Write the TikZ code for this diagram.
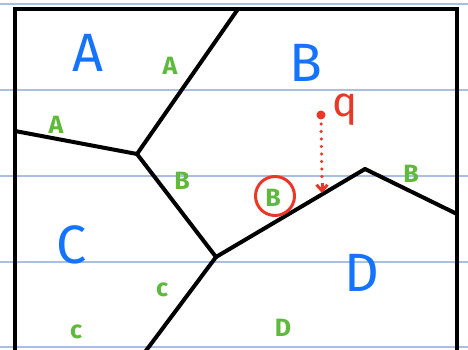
\documentclass[tikz,border=0pt]{standalone}
\usepackage{fontspec}
\setmainfont{Fira Sans}
\usetikzlibrary{arrows.meta}
\definecolor{penblue}{RGB}{20,115,255}
\definecolor{pengreen}{RGB}{95,185,60}
\definecolor{penred}{RGB}{235,55,40}
\definecolor{ruled}{RGB}{170,190,225}
\tikzset{
  big/.style={text=penblue, inner sep=0pt, font=\fontsize{54}{54}\selectfont},
  small/.style={text=pengreen, inner sep=0pt, font=\bfseries\fontsize{25}{25}\selectfont},
  edge/.style={line width=4pt, line cap=round, line join=round},
  ruleline/.style={draw=ruled, line width=1.2pt},
}
\begin{document}
\begin{tikzpicture}[x=1pt, y=-1pt]
\useasboundingbox (0,0) rectangle (468,350);
% ruled paper lines
\foreach \yy in {4,90,176,262,347} {
  \draw[ruleline] (0,\yy) -- (468,\yy);
}
% frame
\draw[line width=4.8pt] (15,9) rectangle (457,352);
% Voronoi vertices and border points
\coordinate (top) at (238,9);
\coordinate (lft) at (15,131);
\coordinate (rgt) at (457,214);
\coordinate (bot) at (145,352);
\coordinate (v1) at (137,154);
\coordinate (v2) at (216,257);
\coordinate (v3) at (365,169);
\draw[edge] (top) -- (v1);
\draw[edge] (lft) -- (v1);
\draw[edge] (v1) -- (v2);
\draw[edge] (v2) -- (v3);
\draw[edge] (v3) -- (rgt);
\draw[edge] (v2) -- (bot);
% region labels
\node[big] (A) at (88,53) {A};
\node[big] (B) at (306,63) {B};
\node[big] (C) at (72,245) {C};
\node[big] (D) at (362,273) {D};
% sample points
\node[small] (a1) at (170,66) {A};
\node[small] (a2) at (56,125) {A};
\node[small] (b1) at (182,181) {B};
\node[small] (b2) at (273,198) {B};
\node[small] (b3) at (411,174) {B};
\node[small] (c1) at (162,290) {c};
\node[small] (c2) at (76,332) {c};
\node[small] (d1) at (283,328) {D};
% query
\draw[penred, line width=3pt] (275,196) circle[radius=19.5];
\node[text=penred, inner sep=0pt, font=\fontsize{42}{42}\selectfont] (q) at (345,110) {q};
\coordinate (qpt) at (321,115);
\coordinate (qend) at (322,193);
\fill[penred] (qpt) circle[radius=4.5];
\draw[penred, line width=3.5pt, line cap=round, dash pattern=on 0pt off 7.5pt] (321,124) -- (322,182);
\draw[penred, line width=3pt, -{Straight Barb[length=6pt,width=11pt]}] (322,183) -- (qend);
\end{tikzpicture}
\end{document}
